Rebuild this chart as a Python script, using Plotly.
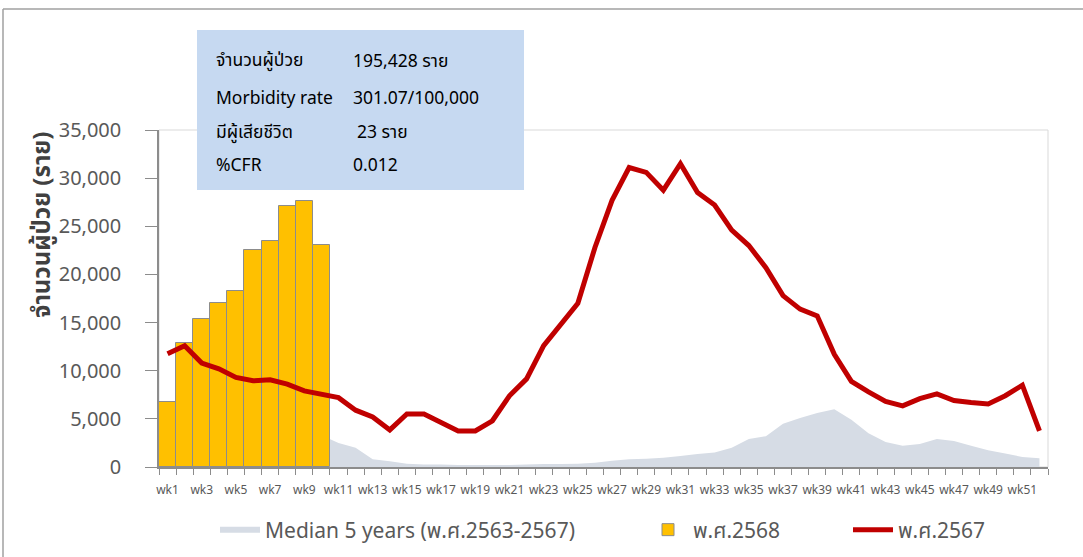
import plotly.graph_objects as go

weeks = [f"wk{i}" for i in range(1, 53)]

median_5y = [2800, 3000, 3200, 3300, 3400, 3400, 3500, 3500, 3400, 3300,
             2500, 2000, 800, 600, 350, 250, 250, 200, 200, 200,
             200, 250, 300, 300, 350, 450, 650, 800, 850, 950,
             1150, 1350, 1500, 2000, 2900, 3200, 4500, 5100, 5600, 6000,
             4900, 3500, 2600, 2200, 2400, 2900, 2700, 2200, 1750, 1400,
             1050, 900]

cases_2568_weeks = weeks[:10]
cases_2568 = [6800, 12850, 15400, 17050, 18300, 22500, 23500, 27100, 27650, 23100]

cases_2567 = [11750, 12600, 10800, 10200, 9300, 8950, 9050, 8600, 7900, 7600,
              7200, 5900, 5200, 3850, 5500, 5500, 4600, 3750, 3750, 4800,
              7400, 9150, 12600, 14900, 17000, 22800, 27700, 31100, 30600, 28750,
              31500, 28500, 27200, 24600, 23000, 20700, 17800, 16400, 15700, 11700,
              8900, 7800, 6800, 6350, 7100, 7600, 6900, 6700, 6550, 7400,
              8500, 3750]

y_ticks = [0, 5000, 10000, 15000, 20000, 25000, 30000, 35000]
x_ticktext = [w if i % 2 == 0 else "" for i, w in enumerate(weeks)]

info_labels = ["จำนวนผู้ป่วย", "Morbidity rate", "มีผู้เสียชีวิต", "%CFR"]
info_values = ["195,428 ราย", "301.07/100,000", "23 ราย", "0.012"]
y_title = "จำนวนผู้ป่วย (ราย)"

FONT = "Noto Sans, Tahoma, 'Noto Sans Thai', sans-serif"
GRAY = "#595959"

# plot-area geometry in pixels (for paper-coordinate conversion)
W, H = 1083, 557
L, R, T, B = 159, 1048, 130, 467
def px(x):
    return (x - L) / (R - L)
def py(y):
    return (B - y) / (B - T)

fig = go.Figure()
# median area on the base axes so it sits behind the bars
fig.add_trace(go.Scatter(
    x=weeks, y=median_5y, name="Median 5 years (พ.ศ.2563-2567)",
    mode="none", fill="tozeroy", fillcolor="#D6DCE5", legend="legend",
))
fig.add_trace(go.Bar(
    x=cases_2568_weeks, y=cases_2568, name="พ.ศ.2568",
    marker=dict(color="#FFC000", line=dict(color="#8C8C8C", width=1)),
    xaxis="x2", yaxis="y2", legend="legend2",
))
fig.add_trace(go.Scatter(
    x=weeks, y=cases_2567, name="พ.ศ.2567", mode="lines",
    line=dict(color="#C00000", width=5),
    xaxis="x2", yaxis="y2", legend="legend3",
))

shapes = [
    dict(type="rect", xref="paper", yref="paper", x0=0, x1=1, y0=0, y1=1,
         line=dict(color="#D9D9D9", width=1), layer="below"),
    dict(type="line", xref="paper", yref="paper", x0=px(3), x1=px(1090), y0=py(9), y1=py(9),
         line=dict(color="#A0A0A0", width=1.5)),
    dict(type="line", xref="paper", yref="paper", x0=px(3), x1=px(3), y0=py(9), y1=py(570),
         line=dict(color="#A0A0A0", width=1.5)),
    dict(type="rect", xref="paper", yref="paper", x0=px(197), x1=px(524), y0=py(190), y1=py(30),
         fillcolor="#C6D9F1", line=dict(width=0), layer="above"),
]

annotations = []
rows_y = [60, 97, 131, 164]
val_x = [353, 353, 357, 353]
for lab, val, ry, vx in zip(info_labels, info_values, rows_y, val_x):
    annotations.append(dict(xref="paper", yref="paper", x=px(214), y=py(ry), text=lab,
                            showarrow=False, xanchor="left", yanchor="middle",
                            font=dict(family=FONT, size=17.5, color="#000000")))
    annotations.append(dict(xref="paper", yref="paper", x=px(vx - 2), y=py(ry), text=val,
                            showarrow=False, xanchor="left", yanchor="middle",
                            font=dict(family=FONT, size=17.5, color="#000000")))
annotations.append(dict(xref="paper", yref="paper", x=px(40), y=py(225), text="<b>" + y_title + "</b>",
                        textangle=-90, showarrow=False, xanchor="center", yanchor="middle",
                        font=dict(family=FONT, size=24, color="#404040")))

leg_common = dict(orientation="h", yanchor="middle", y=py(530), xanchor="left",
                  font=dict(family=FONT, size=21, color=GRAY), bgcolor="rgba(0,0,0,0)",
                  itemwidth=40)

fig.update_layout(
    width=W, height=H,
    margin=dict(l=L, r=W - R, t=T, b=H - B, autoexpand=False),
    paper_bgcolor="white", plot_bgcolor="white",
    barmode="overlay", bargap=0,
    showlegend=True,
    legend=dict(leg_common, x=px(215)),
    legend2=dict(leg_common, x=px(643)),
    legend3=dict(leg_common, x=px(848)),
    shapes=shapes, annotations=annotations,
    xaxis=dict(type="category", categoryorder="array", categoryarray=weeks,
               tickmode="array", tickvals=weeks, ticktext=x_ticktext,
               tickson="boundaries", ticks="outside", ticklen=6, tickcolor="#8C8C8C",
               showline=True, linecolor="#8C8C8C", linewidth=1.5, showgrid=False,
               tickfont=dict(family=FONT, size=12, color=GRAY), tickangle=0,
               ticklabelstandoff=11,
               range=[-0.5, 51.5], automargin=False),
    yaxis=dict(range=[0, 35000], tickmode="array", tickvals=y_ticks,
               tickformat=",", ticks="outside", ticklen=12, tickcolor="#8C8C8C",
               showline=True, linecolor="#8C8C8C", linewidth=1.5, showgrid=False,
               zeroline=False, automargin=False, ticklabelstandoff=20,
               tickfont=dict(family=FONT, size=20, color=GRAY)),
    xaxis2=dict(type="category", categoryorder="array", categoryarray=weeks,
                overlaying="x", matches="x", visible=False, range=[-0.5, 51.5]),
    yaxis2=dict(overlaying="y", matches="y", visible=False, range=[0, 35000]),
)

fig.write_html("out.html", config={"displayModeBar": False},
               post_script="document.body.style.margin='0';")
